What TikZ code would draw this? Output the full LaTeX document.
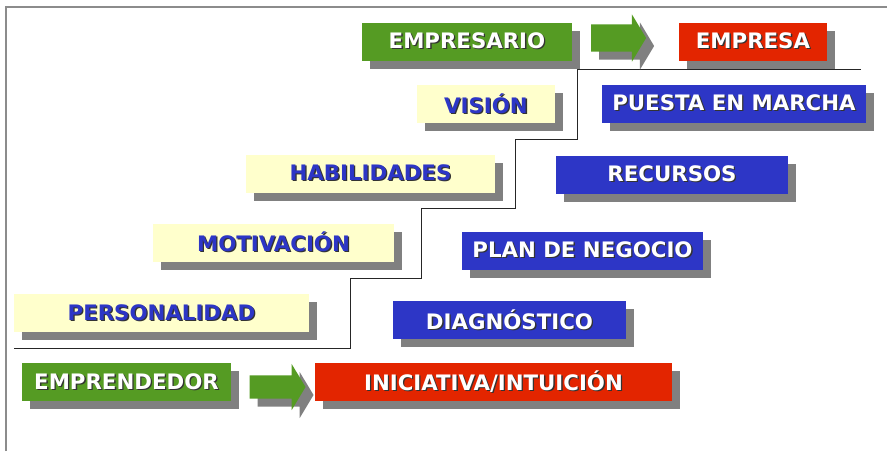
\documentclass[tikz,border=0pt]{standalone}
\usepackage{fontspec}
\setmainfont{DejaVu Sans}
\usetikzlibrary{shapes.arrows,shadows}

\definecolor{stepgreen}{HTML}{559B23}
\definecolor{stepred}{HTML}{E32500}
\definecolor{stepblue}{HTML}{2D36C6}
\definecolor{stepyellow}{HTML}{FFFFCC}
\definecolor{shadowgray}{HTML}{808080}
\definecolor{framegray}{HTML}{8C8C8C}

% text with a small dark shadow behind it
\newcommand{\shtxt}[2]{\makebox[0pt][l]{\hspace{1.3pt}\raisebox{-1.3pt}{\color{black!80}#2}}\textcolor{#1}{#2}}

\begin{document}
\begin{tikzpicture}[x=1pt, y=-1pt, every node/.style={inner sep=0pt, minimum height=38pt,
    font=\fontsize{21.3}{24}\selectfont\bfseries,
    drop shadow={shadow xshift=8pt, shadow yshift=-8pt, fill=shadowgray, opacity=1}}]
    	\tikzstyle{green box}=[fill=stepgreen]
    	\tikzstyle{red box}=[fill=stepred]
    	\tikzstyle{blue box}=[fill=stepblue]
    	\tikzstyle{yellow box}=[fill=stepyellow]
    	\tikzstyle{block arrow}=[single arrow, fill=stepgreen, inner sep=13.5pt, minimum width=47pt,
    	    minimum height=55pt, single arrow tip angle=118, single arrow head extend=10pt]
    	\useasboundingbox (0,0) rectangle (887,451);
    	\draw[framegray, line width=1.2pt] (6,451) -- (6,7) -- (887,7);
    	% the steps
    	\draw[black!85, line width=0.9pt] (14,348) -- (350,348) -- (350,278) -- (421,278)
    	    -- (421,208) -- (515,208) -- (515,139) -- (577,139) -- (577,69) -- (861,69);
    	% top row
    	\node[green box, minimum width=210pt] (empresario) at (467,41.5) {\shtxt{white}{EMPRESARIO}};
    	\node[block arrow] (arrowtop) at (614.5,38) {};
    	\node[red box, minimum width=148pt] (empresa) at (753,41.5) {\shtxt{white}{EMPRESA}};
    	% left column
    	\node[yellow box, minimum width=138pt] (vision) at (486,104) {\shtxt{stepblue}{VISIÓN}};
    	\node[yellow box, minimum width=249pt] (habilidades) at (370.5,173.5) {\shtxt{stepblue}{HABILIDADES}};
    	\node[yellow box, minimum width=241pt] (motivacion) at (273.5,242.5) {\shtxt{stepblue}{MOTIVACIÓN}};
    	\node[yellow box, minimum width=295pt] (personalidad) at (161.5,313) {\shtxt{stepblue}{PERSONALIDAD}};
    	% right column
    	\node[blue box, minimum width=264pt] (puesta) at (734,103.5) {\shtxt{white}{PUESTA EN MARCHA}};
    	\node[blue box, minimum width=232pt] (recursos) at (672,174.5) {\shtxt{white}{RECURSOS}};
    	\node[blue box, minimum width=241pt] (plan) at (582.5,250.5) {\shtxt{white}{PLAN DE NEGOCIO}};
    	\node[blue box, minimum width=233pt] (diagnostico) at (509.5,320) {\shtxt{white}{DIAGNÓSTICO}};
    	% bottom row
    	\node[green box, minimum width=209pt] (emprendedor) at (126.5,382) {\shtxt{white}{EMPRENDEDOR}};
    	\node[block arrow, inner sep=11.5pt, minimum width=46pt, minimum height=56pt, single arrow head extend=11.5pt] (arrowbot) at (274,387) {};
    	\node[red box, minimum width=357pt] (iniciativa) at (493.5,382) {\shtxt{white}{INICIATIVA/INTUICIÓN}};
\end{tikzpicture}
\end{document}
